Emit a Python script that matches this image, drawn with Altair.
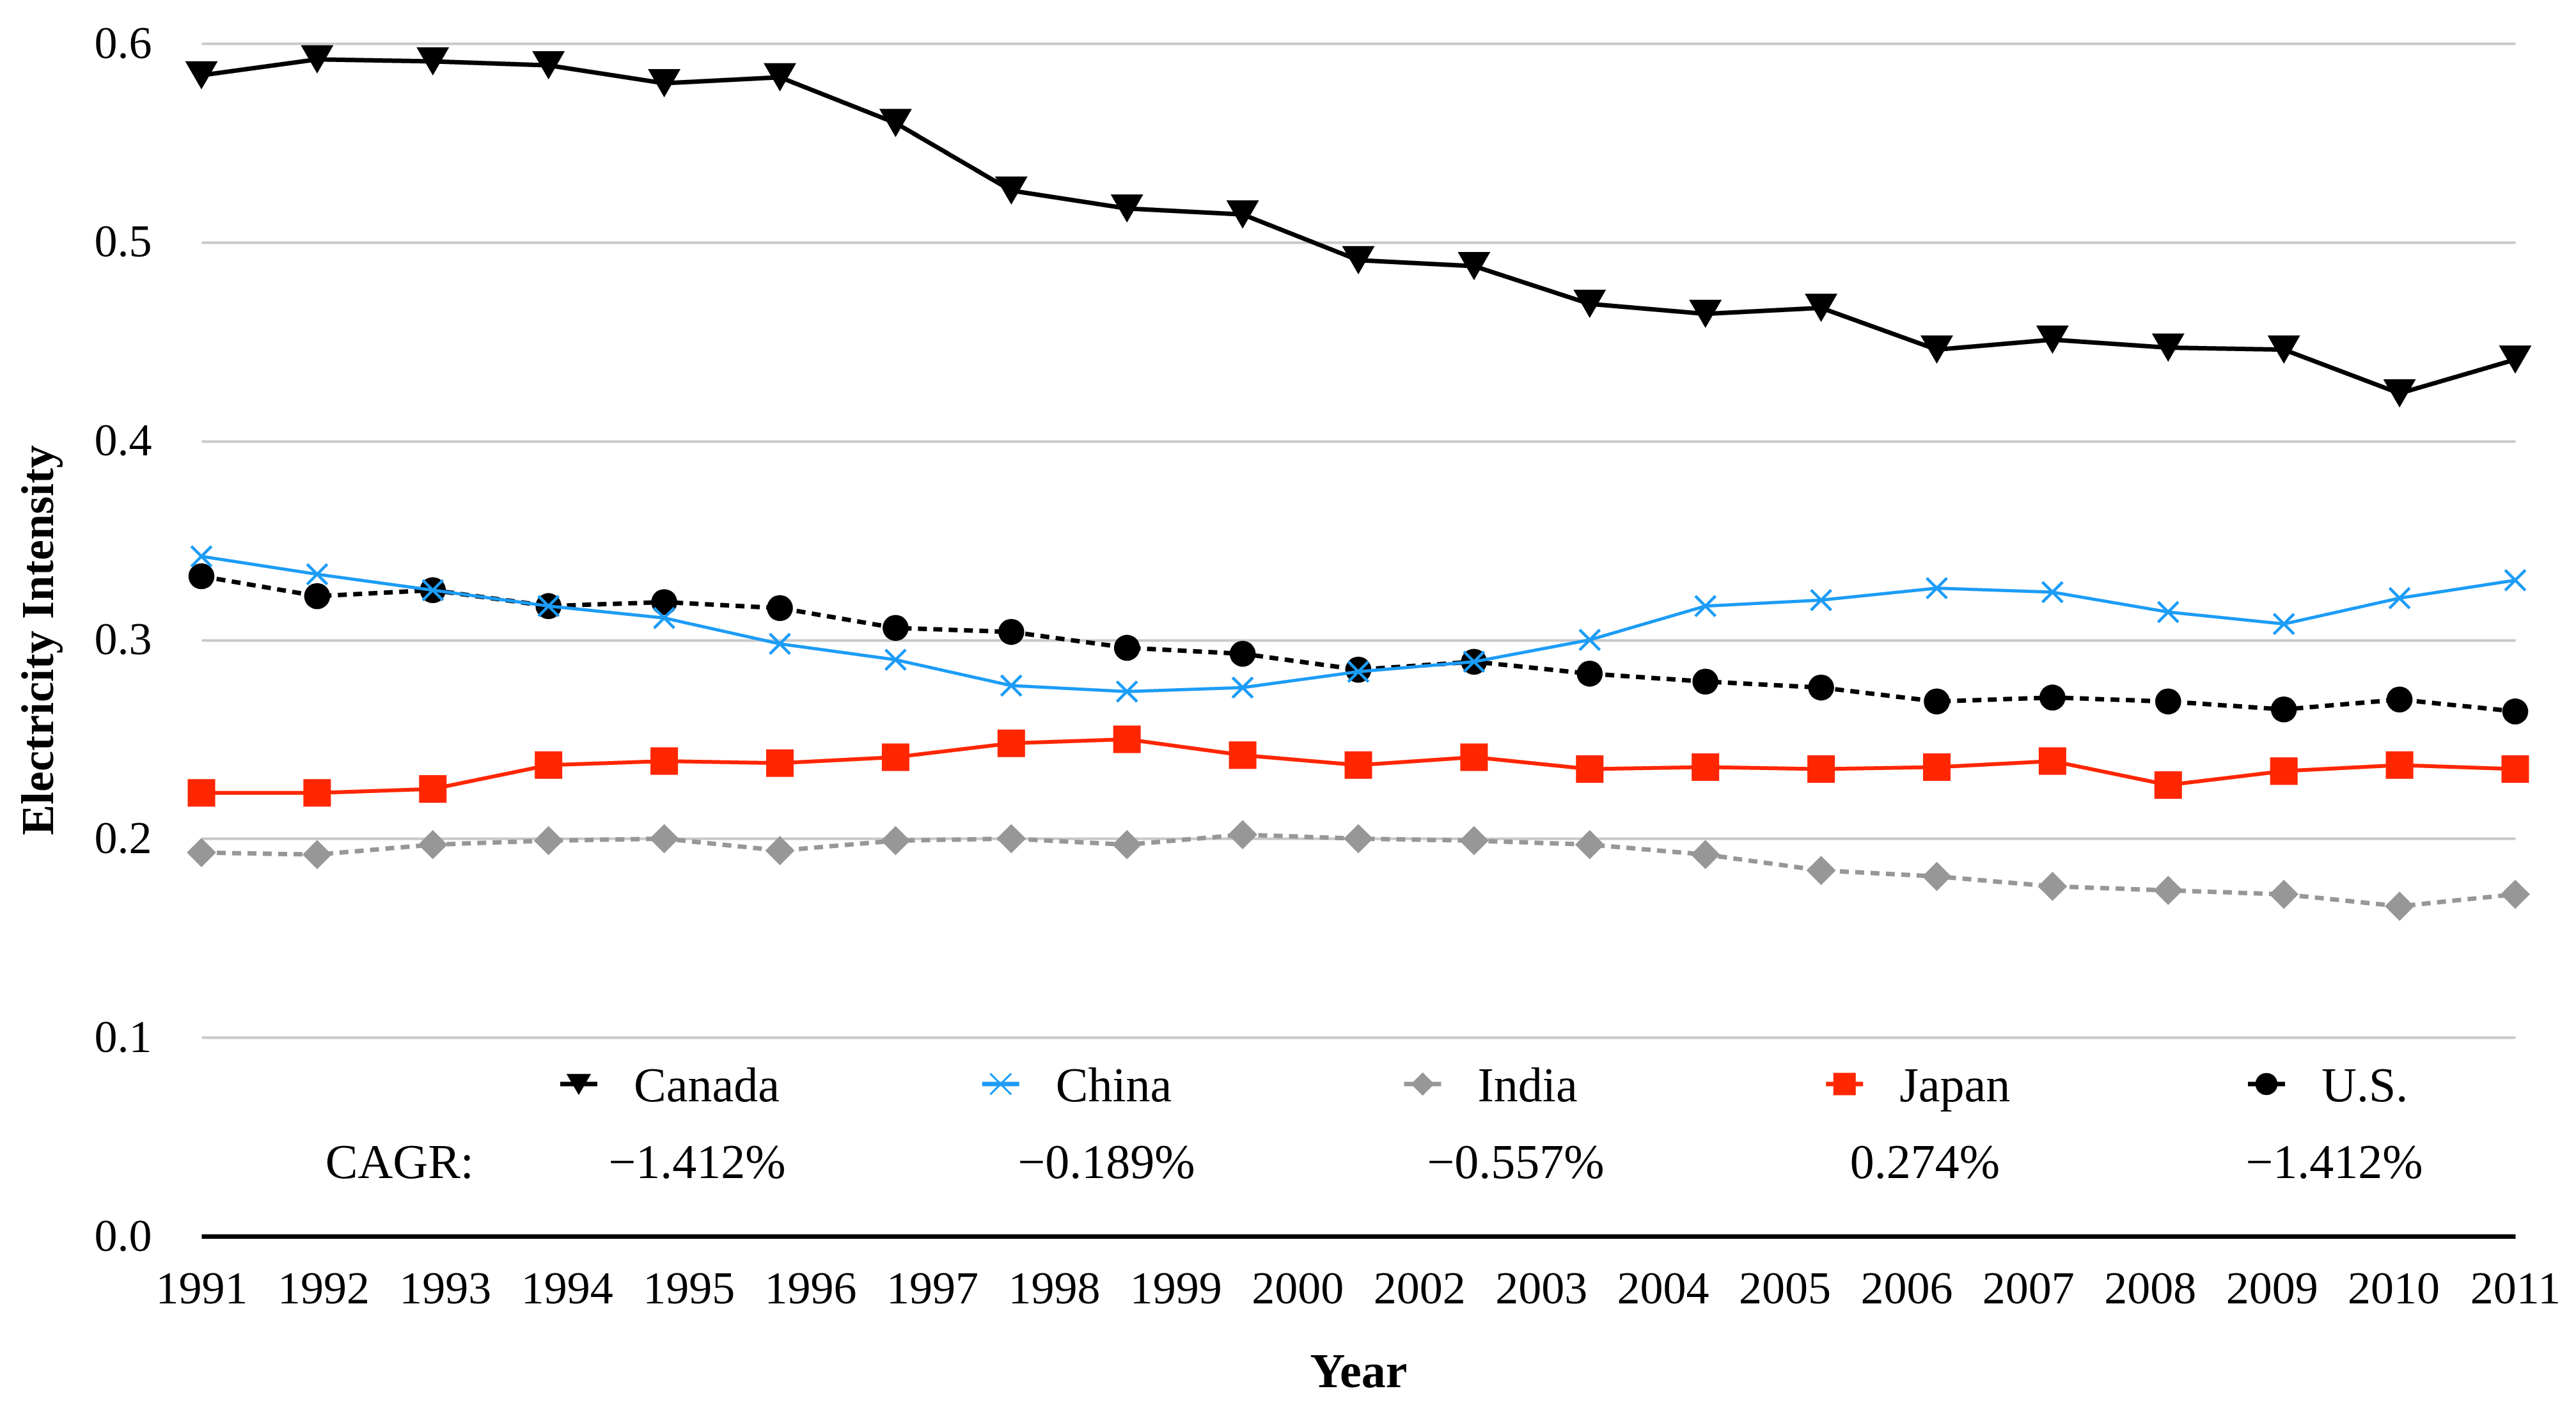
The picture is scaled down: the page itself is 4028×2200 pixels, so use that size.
import json
import altair as alt
import pandas as pd

# ---------------- data ----------------
year_labels = ["1991", "1992", "1993", "1994", "1995", "1996", "1997", "1998", "1999", "2000",
               "2002", "2003", "2004", "2005", "2006", "2007", "2008", "2009", "2010", "2011"]

series_names = ["Canada", "China", "India", "Japan", "U.S."]

canada = [0.584, 0.592, 0.591, 0.589, 0.580, 0.583, 0.560, 0.526, 0.517, 0.514, 0.491,
          0.488, 0.469, 0.464, 0.467, 0.446, 0.451, 0.447, 0.446, 0.424, 0.441]
china = [0.342, 0.333, 0.325, 0.317, 0.311, 0.298, 0.290, 0.277, 0.274, 0.276, 0.284,
         0.289, 0.300, 0.317, 0.320, 0.326, 0.324, 0.314, 0.308, 0.321, 0.330]
india = [0.193, 0.192, 0.197, 0.199, 0.200, 0.194, 0.199, 0.200, 0.197, 0.202, 0.200,
         0.199, 0.197, 0.192, 0.184, 0.181, 0.176, 0.174, 0.172, 0.166, 0.172]
japan = [0.223, 0.223, 0.225, 0.237, 0.239, 0.238, 0.241, 0.248, 0.250, 0.242, 0.237,
         0.241, 0.235, 0.236, 0.235, 0.236, 0.239, 0.227, 0.234, 0.237, 0.235]
us = [0.332, 0.322, 0.325, 0.317, 0.319, 0.316, 0.306, 0.304, 0.296, 0.293, 0.285,
      0.289, 0.283, 0.279, 0.276, 0.269, 0.271, 0.269, 0.265, 0.270, 0.264]

cagr_values = ["\u22121.412%", "\u22120.189%", "\u22120.557%", "0.274%", "\u22121.412%"]
cagr_header = "CAGR:"

values_by_series = dict(zip(series_names, [canada, china, india, japan, us]))

# ---------------- styles ----------------
X_PATH = "M-1,-1L1,1M-1,1L1,-1"
styles = {
    "Canada": dict(color="#000000", dash=[1, 0], width=7, shape="triangle-down", size=2600, filled=True),
    "China": dict(color="#1c9cf6", dash=[1, 0], width=5, shape=X_PATH, size=1000, filled=False),
    "India": dict(color="#979797", dash=[14, 10], width=7, shape="diamond", size=2100, filled=True),
    "Japan": dict(color="#ff2600", dash=[1, 0], width=6, shape="square", size=1850, filled=True),
    "U.S.": dict(color="#000000", dash=[14, 10], width=7, shape="circle", size=1650, filled=True),
}
legend_shapes = ["triangle-down", X_PATH, "diamond", "square", "circle"]
legend_sizes = [1100, 1000, 2000, 1450, 1450]
colors = [styles[s]["color"] for s in series_names]

FONT = "Liberation Serif"
W, H = 3618, 1865

rows = []
for s in series_names:
    for i, v in enumerate(values_by_series[s]):
        rows.append({"idx": i, "series": s, "value": v})
df = pd.DataFrame(rows)
n_idx = len(canada) - 1

tick_vals = [i * n_idx / (len(year_labels) - 1) for i in range(len(year_labels))]
label_expr = f"{json.dumps(year_labels)}[round(datum.value*{len(year_labels) - 1}/{n_idx})]"

x_enc = alt.X(
    "idx:Q",
    scale=alt.Scale(domain=[0, n_idx], nice=False, zero=False),
    axis=alt.Axis(
        values=tick_vals, labelExpr=label_expr, title="Year", grid=False,
        ticks=False, tickSize=0, labelPadding=47, labelFlush=False, labelOverlap=False,
        domainColor="#000000", domainWidth=7, zindex=1, titlePadding=57,
        labelFontSize=72, titleFontSize=76, titleFontWeight="bold",
    ),
)
y_enc = alt.Y(
    "value:Q",
    scale=alt.Scale(domain=[0, 0.6], nice=False),
    axis=alt.Axis(
        values=[0, 0.1, 0.2, 0.3, 0.4, 0.5, 0.6], format=".1f", title="Electricity Intensity",
        domain=False, ticks=False, tickSize=0, labelPadding=78, grid=True,
        gridColor="#c8c8c8", gridWidth=4, titlePadding=50,
        labelFontSize=72, titleFontSize=72, titleFontWeight="bold",
    ),
)

base = alt.Chart(df)
order = ["India", "Japan", "U.S.", "China", "Canada"]
data_layers = []
for s in order:
    st = styles[s]
    sub = base.transform_filter(alt.datum.series == s)
    data_layers.append(
        sub.mark_line(color=st["color"], strokeWidth=st["width"], strokeDash=st["dash"])
        .encode(x=x_enc, y=y_enc)
    )
    if st["filled"]:
        pt = sub.mark_point(shape=st["shape"], size=st["size"], filled=True,
                            color=st["color"], opacity=1)
    else:
        pt = sub.mark_point(shape=st["shape"], size=st["size"], filled=False,
                            color=st["color"], strokeWidth=4.5, opacity=1)
    data_layers.append(pt.encode(x=x_enc, y=y_enc))
data_group = alt.layer(*data_layers)

# ---------------- legend ----------------
df_leg = pd.DataFrame({"series": series_names, "cagr": cagr_values})
leg_base = alt.Chart(df_leg)
leg_x = alt.X("series:N",
              scale=alt.Scale(type="point", domain=series_names, range=[590, 3229], padding=0),
              axis=None)
col = alt.Color("series:N", scale=alt.Scale(domain=series_names, range=colors), legend=None)
sym_y = 1627

stubs = leg_base.mark_rule(strokeWidth=7, xOffset=-29, x2Offset=29).encode(
    x=leg_x, x2=alt.X2("series:N"), y=alt.value(sym_y), color=col)
markers = leg_base.mark_point(filled=True, opacity=1, strokeWidth=3).encode(
    x=leg_x, y=alt.value(sym_y), fill=col,
    stroke=alt.Stroke("series:N", scale=alt.Scale(domain=series_names, range=colors), legend=None),
    shape=alt.Shape("series:N", scale=alt.Scale(domain=series_names, range=legend_shapes), legend=None),
    size=alt.Size("series:N", scale=alt.Scale(domain=series_names, range=legend_sizes), legend=None),
)
names = leg_base.mark_text(align="left", baseline="alphabetic", dx=86, fontSize=76,
                           font=FONT, color="#000000").encode(
    x=leg_x, y=alt.value(1654), text="series:N")
legend_group = alt.layer(stubs, markers, names)

cagr_x = alt.X("series:N",
               scale=alt.Scale(type="point", domain=series_names, range=[775, 3335], padding=0),
               axis=None)
cagr_text = leg_base.mark_text(align="center", baseline="alphabetic", fontSize=76,
                               font=FONT, color="#000000").encode(
    x=cagr_x, y=alt.value(1774), text="cagr:N")
cagr_head = alt.Chart(pd.DataFrame({"t": [cagr_header]})).mark_text(
    align="right", baseline="alphabetic", fontSize=76, font=FONT, color="#000000").encode(
    x=alt.value(426), y=alt.value(1774), text="t:N")
cagr_group = alt.layer(cagr_text, cagr_head)

chart = (
    alt.layer(data_group, legend_group, cagr_group)
    .resolve_scale(x="independent", color="independent")
    .properties(
        width=W, height=H,
        autosize=alt.AutoSizeParams(type="none"),
        padding={"left": 307, "top": 60, "right": 80, "bottom": 267},
        background="#ffffff",
    )
    .configure_view(stroke=None)
    .configure_axis(labelFont=FONT, titleFont=FONT, labelColor="#000000", titleColor="#000000")
    .configure_text(font=FONT)
)

chart.save("out.html", embed_options={"renderer": "svg", "actions": False})
